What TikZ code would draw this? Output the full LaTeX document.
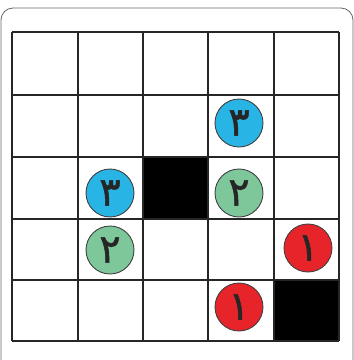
\documentclass[tikz,border=0pt]{standalone}
\usepackage{fontspec}
\newfontfamily\arabicfont[Script=Arabic,FakeBold=1.2]{DejaVu Sans}
\definecolor{cblue}{HTML}{29B4E6}
\definecolor{cgreen}{HTML}{7EC79A}
\definecolor{cred}{HTML}{E8242B}
\begin{document}
\begin{tikzpicture}[x=1pt,y=-1pt,
  disc/.style={circle,minimum size=48pt,inner sep=0pt,draw=black!75,line width=0.9pt,
    font=\arabicfont\fontsize{40}{40}\selectfont,text=black!85},
  gridline/.style={line width=1.8pt,black!85}]
\useasboundingbox (0,0) rectangle (354,360);
\fill[white] (0,0) rectangle (354,360);
\draw[black!60,line width=0.8pt,rounded corners=12pt] (1,8) rectangle (353,372);
% black cells
\fill[black] (143,157) rectangle (208,219);
\fill[black] (274,280) rectangle (339,341);
% grid
\foreach \x in {12,78,143,208,274,339} \draw[gridline] (\x,32) -- (\x,341);
\foreach \y in {32,95,157,219,280,341} \draw[gridline] (12,\y) -- (339,\y);
% discs
\node[disc,fill=cblue] (b1) at (239,123) {۳};
\node[disc,fill=cblue] (b2) at (110,193) {۳};
\node[disc,fill=cgreen] (g1) at (239,193) {۲};
\node[disc,fill=cgreen] (g2) at (110,250) {۲};
\node[disc,fill=cred] (r1) at (308,248) {۱};
\node[disc,fill=cred] (r2) at (239,307) {۱};
\end{tikzpicture}
\end{document}
